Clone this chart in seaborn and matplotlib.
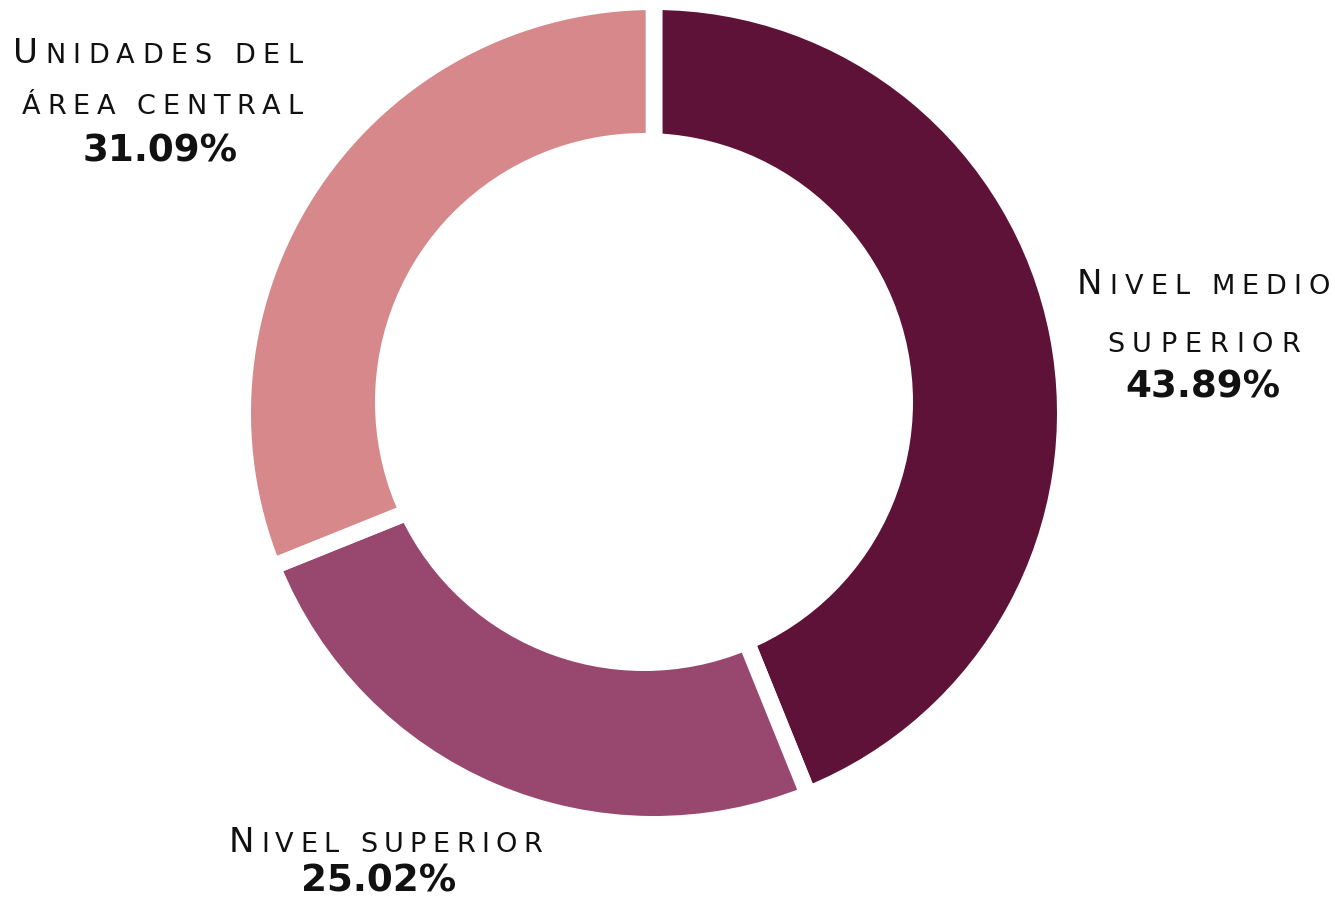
import matplotlib
matplotlib.use("Agg")
import matplotlib.pyplot as plt
import seaborn as sns
from matplotlib.patches import Circle

# ---- data ----
categories = ["Nivel medio superior", "Nivel superior", "Unidades del área central"]
values = [43.89, 25.02, 31.09]
pct_labels = ["43.89%", "25.02%", "31.09%"]
colors = ["#5E1237", "#98476F", "#D6888A"]

sns.set_theme(style="white")
plt.rcParams["font.family"] = ["DejaVu Sans"]

W, H = 1335, 906
fig = plt.figure(figsize=(W / 100, H / 100), dpi=100)
fig.patch.set_facecolor("white")

cx, cy, R = 654, 413, 403          # pixel centre / outer radius of the ring
ax = fig.add_axes([(cx - R) / W, (H - cy - R) / H, 2 * R / W, 2 * R / H])
lw_pt = 12
lw_px = lw_pt * 100 / 72
ax.pie(values, colors=sns.color_palette(colors), startangle=90, counterclock=False,
       radius=1 + (lw_px / 2) / R,
       wedgeprops=dict(edgecolor="white", linewidth=lw_pt))
# hole of the donut (slightly off-centre as in the reference)
hx, hy, hr = 644, 402, 269
ax.add_patch(Circle(((hx - cx) / R, (cy - hy) / R), hr / R, facecolor="white",
                    edgecolor="none", zorder=5))
ax.set_xlim(-1, 1)
ax.set_ylim(-1, 1)
ax.set_aspect("equal")
ax.axis("off")

fig.canvas.draw()
renderer = fig.canvas.get_renderer()

BIG, SMALL, PCT = 24.5, 19.5, 26.8
TXT = "#111111"


def tracked_line(px_left, px_right, base, segments):
    """Small-caps line with letter spacing spanning px_left..px_right, baseline base (px from top)."""
    chars = []
    for s, big in segments:
        for ch in s:
            chars.append((ch, BIG if big else SMALL))
    items = []
    total = 0.0
    for ch, fs in chars:
        if ch == " ":
            w = 0.30 * fs * 100 / 72
            items.append((None, w))
        else:
            t = fig.text(0, 1 - base / H, ch, fontsize=fs, va="baseline", ha="left", color=TXT)
            w = t.get_window_extent(renderer).width
            items.append((t, w))
        total += w
    ngaps = len(items) - 1
    track = (px_right - px_left - total) / ngaps if ngaps else 0
    x = px_left
    for t, w in items:
        if t is not None:
            t.set_x(x / W)
        x += w + track


def pct(px, base, s):
    fig.text(px / W, 1 - base / H, s, fontsize=PCT, fontweight="bold", ha="center",
             va="baseline", color=TXT)


# Nivel medio superior
tracked_line(1077, 1330, 294, [("N", True), ("IVEL MEDIO", False)])
tracked_line(1107, 1300, 352, [("SUPERIOR", False)])
pct(1203, 398, pct_labels[0])

# Nivel superior
tracked_line(229, 542, 852, [("N", True), ("IVEL SUPERIOR", False)])
pct(379, 892, pct_labels[1])

# Unidades del área central
tracked_line(13, 302, 63, [("U", True), ("NIDADES DEL", False)])
tracked_line(22, 302, 114, [("ÁREA CENTRAL", False)])
pct(160, 161, pct_labels[2])

fig.savefig("out.png", dpi=100, facecolor="white")
